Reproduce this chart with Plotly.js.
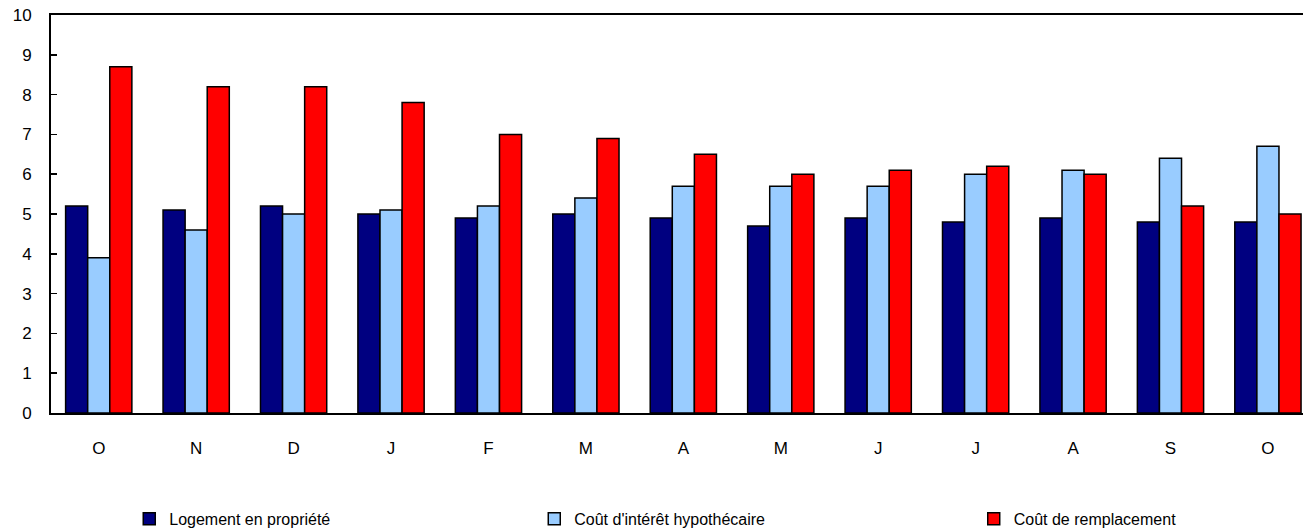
<!DOCTYPE html>
<html>
<head>
<meta charset="utf-8">
<script src="https://cdn.plot.ly/plotly-3.0.1.min.js"></script>
<style>html,body{margin:0;padding:0;background:#fff}#chart{width:1315px;height:529px}</style>
</head>
<body>
<div id="chart"></div>
<script>
const months = ["O","N","D","J","F","M","A","M","J","J","A","S","O"];
const logement = [5.2,5.1,5.2,5.0,4.9,5.0,4.9,4.7,4.9,4.8,4.9,4.8,4.8];
const interet = [3.9,4.6,5.0,5.1,5.2,5.4,5.7,5.7,5.7,6.0,6.1,6.4,6.7];
const remplacement = [8.7,8.2,8.2,7.8,7.0,6.9,6.5,6.0,6.1,6.2,6.0,5.2,5.0];
const names = ["Logement en propriété","Coût d'intérêt hypothécaire","Coût de remplacement"];
const colors = ["#000080","#99CCFF","#FF0000"];

const idx = months.map((m,i)=>i);
const series = [logement, interet, remplacement];
const legends = ["legend","legend2","legend3"];
const traces = series.map((s,k)=>({
  type:"bar", x:idx, y:s, name:names[k], legend:legends[k],
  marker:{color:colors[k], line:{color:"#000", width:1.5}},
  hoverinfo:"y"
}));
const tickFont = {family:"Liberation Sans, Arial, sans-serif", size:17, color:"#000"};
const legFont = {family:"Liberation Sans, Arial, sans-serif", size:16, color:"#000"};
const legBase = {orientation:"h", yanchor:"middle", y:-0.266, xanchor:"left", font:legFont, bgcolor:"rgba(0,0,0,0)", traceorder:"normal"};
const layout = {
  width:1315, height:529,
  margin:{l:51, r:12, t:15, b:116, autoexpand:false},
  paper_bgcolor:"#fff", plot_bgcolor:"#fff",
  font:tickFont,
  barmode:"group", bargap:0.32, bargroupgap:0,
  showlegend:true,
  legend:Object.assign({}, legBase, {x:0.0625}),
  legend2:Object.assign({}, legBase, {x:0.386}),
  legend3:Object.assign({}, legBase, {x:0.737}),
  xaxis:{range:[-0.49,12.36], tickvals:idx, ticktext:months, ticks:"", ticklabelstandoff:19, showline:true, linecolor:"#000", linewidth:2, mirror:true, showgrid:false, zeroline:false, tickfont:tickFont, fixedrange:true, automargin:false},
  yaxis:{range:[0,10], dtick:1, tick0:0, ticks:"inside", ticklen:6, tickwidth:1.5, tickcolor:"#000", ticklabelstandoff:14, showline:true, linecolor:"#000", linewidth:2, showgrid:false, zeroline:false, tickfont:tickFont, fixedrange:true, automargin:false}
};
Plotly.newPlot("chart", traces, layout, {displayModeBar:false, staticPlot:true});
</script>
</body>
</html>
